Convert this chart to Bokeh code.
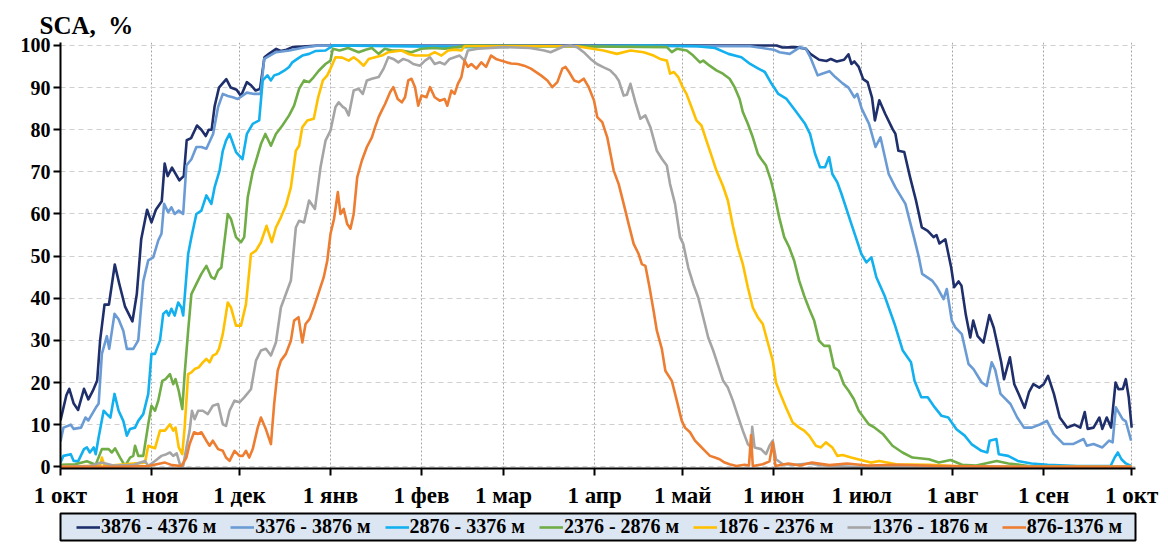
from bokeh.plotting import figure
from bokeh.models import Range1d, FixedTicker, Legend, LegendItem
from bokeh.layouts import column
from bokeh.embed import file_html
from bokeh.resources import INLINE

# ---------------- data ----------------
month_ticks = [0, 31, 61, 92, 123, 151, 182, 212, 243, 273, 304, 335, 365]
month_labels = ["1 окт", "1 ноя", "1 дек", "1 янв", "1 фев", "1 мар", "1 апр",
                "1 май", "1 июн", "1 июл", "1 авг", "1 сен", "1 окт"]
y_ticks = [0, 10, 20, 30, 40, 50, 60, 70, 80, 90, 100]

names = ["3876 - 4376 м", "3376 - 3876 м", "2876 - 3376 м", "2376 - 2876 м",
         "1876 - 2376 м", "1376 - 1876 м", "876-1376 м"]
colors = ["#1f2f6b", "#6a9bd4", "#12b0ee", "#70ad47", "#ffc000", "#a5a5a5", "#ed7d31"]

# days since 1 Oct
s1_days = [0, 2, 3, 4.5, 6, 8, 9.5, 11, 12.5, 13.5,
           15, 16.5, 18.5, 20, 22, 24.5, 26, 27.5, 29.5, 31,
           32.5, 34.5, 35.5, 36.5, 38, 40.5, 42, 43, 44.5, 46.5,
           48, 49.5, 50.5, 51.5, 52.5, 54, 56.5, 58, 60, 61.5,
           63.5, 65, 66.5, 68, 69.5, 71, 73.5, 75, 77, 79,
           84, 88,
           244, 246, 250.5, 254, 255.5, 258.5, 261, 262.5, 264.5, 267,
           268.5, 269.5, 270.5, 272, 273.5, 275, 276.5, 277.5, 279, 281,
           283.5, 284.5, 285.5, 287.5, 289.5, 291.5, 293.5, 295.5, 297.5, 298.5,
           299.5, 301.5, 303.5, 304.5, 306, 307, 308.5, 310, 311, 312.5,
           314.5, 316.5, 318, 320.5, 321.5, 323.5, 325, 326.5, 328.5, 330,
           331.5, 333.5, 335, 336.5, 338.5, 340.5, 343, 345.5, 347.5, 349,
           350, 352, 354, 355, 356.5, 358, 359.5, 360.5, 362, 363,
           364, 365]
s1_vals = [11, 17, 18.5, 15, 13.5, 18.5, 16, 18, 20.5, 30,
           38.5, 38.5, 48, 43.5, 38, 34.5, 41, 54, 61, 58,
           61, 63, 72, 69, 71, 68, 69, 77.5, 78, 81,
           80, 78.5, 80, 80, 85.5, 90, 92, 90, 89.5, 88,
           91.3, 90.5, 89.3, 89.7, 97.2, 98, 99.2, 98.7, 99, 99.6,
           99.8, 100,
           100, 99.5, 99.6, 99.2, 98, 96.6, 96.3, 96.8, 96.2, 96.6,
           97.9, 95.6, 96.2, 94.9, 92, 91.3, 87.7, 82.2, 87, 83.8,
           80.2, 79, 75, 74.7, 68.7, 63.2, 56.8, 56, 54.5, 55,
           53, 54, 47.3, 42.6, 44, 43, 36, 30.7, 34.7, 31,
           29.5, 36, 33, 25, 20.8, 26, 19.6, 17.3, 14, 17.7,
           19.6, 18.8, 19.6, 21.6, 17.3, 11.7, 9.3, 10, 9.3, 13,
           9, 9.3, 11.7, 9, 11.7, 9.3, 20, 18.4, 18.5, 20.8,
           16.5, 9.3]

s2_days = [0, 1, 3.5, 4.5, 7, 8.5, 9.5, 12, 13, 14.1,
           15.8, 16.6, 18.4, 19.8, 21.4, 22.6, 24.8, 26.5, 28.2, 29.9,
           31.6, 33.3, 34.4, 35.3, 36.7, 37.8, 38.9, 40.3, 41.8, 42.9,
           44.6, 46.3, 48, 49.7, 52, 53.7, 55.3, 57, 58.7, 60.4,
           63.5, 66, 68.2, 69.4, 73.4, 78, 83, 88,
           235, 243, 245, 248.5, 252, 254, 255.5, 258, 259.5, 262,
           264, 266.5, 268.5, 270.5, 271.5, 273, 275.5, 277.7, 279.4, 282.2,
           284.5, 287.9, 290.8, 292.5, 293.6, 297, 298.7, 300.9, 302, 303.7,
           304.9, 307.1, 309.4, 311.1, 313.9, 315.6, 317.3, 318.5, 320.3, 323.7,
           326, 328.3, 331, 333.9, 336.1, 338.4, 341.8, 345, 348.6, 349.7,
           352, 355, 357.3, 358.5, 359.6, 361.9, 363, 364.8]
s2_vals = [6, 9.3, 10, 9, 9.3, 11.7, 11, 14, 15, 26.8,
           31, 28, 36.3, 35, 32.3, 28, 28, 30, 44, 49,
           49.7, 53.7, 55.3, 62.4, 60.4, 61.6, 60, 60.8, 60, 71.5,
           73, 75.9, 75.9, 75.5, 79, 85.4, 88.5, 88, 87.7, 87.3,
           88.8, 88.5, 88.5, 96.8, 98.4, 98.8, 99.5, 100,
           99.8, 99, 98.4, 98, 99.6, 99.2, 97.2, 92.9, 93.3, 93.9,
           92.5, 91, 90, 87.7, 88.5, 85, 81.4, 75.9, 78.2, 69.5,
           66.3, 62.4, 54.5, 49.7, 45.8, 44.2, 42.6, 39.8, 42.2, 34.7,
           33.1, 31.5, 24.4, 23.2, 20, 19.2, 24.8, 23, 17.3, 14.9,
           11.7, 9.3, 9.3, 10.1, 10.9, 7.8, 5.4, 5.4, 6.6, 5,
           5.4, 4.6, 6.2, 5.8, 14.1, 11.3, 10.8, 6.2]

s3_days = [0, 1, 3.5, 4.5, 6, 8, 9, 10, 11.3, 12,
           13, 14.7, 15.8, 17, 18.4, 19.8, 21.4, 22.6, 23.7, 25.4,
           26.5, 28.2, 29.9, 31, 32.2, 33.9, 35, 36.1, 36.9, 37.8,
           38.9, 40.1, 41.2, 41.8, 43.5, 44.6, 46.3, 48, 49.7, 51.4,
           52.5, 54.2, 55.3, 56.4, 57.6, 59.8, 62, 63.5, 65.5, 67.7,
           68.9, 70.5, 71.7, 72.8, 74.5, 76.2, 77.9, 79, 80.7, 82.4,
           84.7, 87, 90.3, 93, 140, 200,
           216.7, 223, 227.6, 232, 235, 237.8, 240, 242.3, 244.6, 247.4,
           250.3, 252, 253.7, 255.4, 257.1, 258.8, 260.5, 261.9, 263, 264.7,
           266.1, 269.5, 272.9, 274.6, 276.3, 278, 280.8, 284.2, 287, 289.8,
           291, 293.3, 295.5, 297.9, 300.2, 302.5, 305.3, 308.1, 310.4, 313.8,
           315.8, 316.6, 318.9, 319.7, 322.9, 326.2, 330.8, 336.4, 346.6, 357.8,
           359.2, 360.3, 361.5, 363, 364.8]
s3_vals = [1, 2.6, 3, 1.4, 1.3, 4.2, 4.6, 3.4, 4.6, 3,
           7, 13.3, 12.5, 11.7, 17.3, 13.3, 10.9, 7.4, 9, 9.3,
           10.9, 12.5, 17.3, 26.8, 26.8, 30, 36.3, 37, 35.9, 37.5,
           35.9, 39, 37.8, 35.9, 50.5, 54.5, 60, 60.8, 64.4, 62.4,
           66.3, 70.3, 75, 77.4, 79, 74.7, 73, 79, 81.4, 82.2,
           91.7, 92.9, 91.7, 92.9, 93.3, 94, 94.9, 96, 96.8, 97.6,
           98, 98.7, 98.8, 100, 99.6, 100,
           99.8, 99.4, 98, 97.2, 95.6, 94.5, 93.7, 90.9, 88.5, 87.3,
           84.6, 83, 81.4, 79, 74.3, 71.1, 71.1, 73.5, 69.5, 67.5,
           64.8, 57.6, 50.5, 48.5, 49.7, 45, 40.6, 33.9, 27.6, 24.8,
           20.4, 16.5, 16.5, 14.1, 12.1, 11.7, 8.9, 7.4, 5.4, 3.8,
           3.4, 6.2, 6.6, 3, 2.6, 1.4, 0.8, 0.5, 0.2, 0.2,
           2.2, 3.4, 1.8, 0.8, 0.2]

s4_days = [0, 5, 9, 12, 14.1, 16.4, 17.5, 18.6, 20.3, 22,
           23.7, 24.8, 25.4, 26.5, 28.2, 29.9, 31, 32.2, 33.3, 34.7,
           35.8, 37.3, 38.4, 39.2, 40.3, 41.5, 42.3, 43.5, 44.6, 46.3,
           48, 49.7, 51.4, 52.5, 53.7, 54.8, 55.9, 57, 58.1, 59.8,
           61.5, 62.6, 63.8, 65.5, 68.3, 69.8, 71.7, 73.4, 75.6, 77.9,
           79.6, 81.3, 83, 84.7, 86.3, 88, 90.3, 92, 92.8, 95.1,
           98, 101.6, 104, 106.1, 108.4, 110.5, 112.9, 116, 119.6, 123,
           127, 130.9, 135.4, 138,
           206.6, 208.3, 210, 213.4, 215.6, 217.9, 219, 221.2, 223.5, 225.7,
           228, 229.7, 231.4, 232.5, 234.2, 235.9, 237.6, 238.7, 240.4, 242.1,
           243.2, 244.9, 246.6, 248.3, 250, 251.7, 253.4, 255.1, 256.8, 258.5,
           260.2, 262, 263.6, 265.2, 266.9, 268.6, 270.3, 272, 273.7, 275.4,
           277, 280.2, 283.5, 286.9, 290.3, 295.9, 299.3, 303.3, 307.2, 312,
           319, 323, 329.8, 365]
s4_vals = [0.5, 0.6, 1.3, 0.5, 4.2, 4.2, 3.4, 4.4, 2.2, 0.2,
           2.2, 2.6, 5, 2.6, 2.6, 10.1, 14.5, 13.3, 15.7, 20.4,
           20.8, 22, 19.6, 20.8, 18, 13.7, 22, 32.3, 41, 43.4,
           45.8, 47.7, 45, 44.6, 46.6, 47.3, 53.7, 60, 58.8, 54.5,
           53.3, 54.5, 64, 70, 76.6, 79, 76.2, 79, 81, 83.4,
           85.7, 89.7, 91.7, 91.3, 92.5, 94, 95.6, 96.4, 99.2, 98.8,
           99.4, 98.4, 99, 99.4, 98, 99.2, 98.8, 98.8, 98.4, 99.2,
           99.4, 99.2, 99.6, 100,
           99.6, 98.4, 99.2, 98.8, 97.6, 96, 96.4, 95.2, 94.1, 93.3,
           92.1, 90.1, 87.3, 84.2, 81.4, 78.2, 74.3, 73.1, 71.5, 67.9,
           64.8, 59.2, 54.5, 52.1, 48.9, 44.2, 40.6, 37.5, 34.7, 29.9,
           28.7, 28.7, 23.6, 22.8, 19.6, 18, 16.1, 13.3, 11.7, 10.1,
           9.5, 7.8, 5, 3.4, 2.2, 1.8, 1, 1.6, 0.5, 0.3,
           1.4, 0.8, 0.2, 0]

s5_days = [0, 13.5, 14.1, 15, 28.8, 29.9, 32.2, 33.9, 35.6, 37.3,
           38.4, 39.2, 40.3, 41.5, 42.3, 43.5, 44.6, 45.7, 47.1, 48.5,
           49.7, 50.8, 51.9, 53.1, 54, 55.3, 57, 58.1, 59.8, 61.5,
           63.2, 64.9, 66.6, 68.3, 70.2, 72, 73.4, 75.1, 76.8, 78.5,
           80.2, 81.3, 82.4, 84.1, 86.3, 87.8, 89.4, 90.9, 92, 93.7,
           96, 98.2, 99.9, 101.6, 103.3, 105, 107.2, 109.5, 111.7, 116.3,
           118.5, 120.8, 125.3, 127.5, 129.8, 132.1, 134.3, 136.6, 137.7,
           176, 185, 189.6, 194.2, 198.7, 202.1, 204.3, 206.6, 207.7, 209,
           210.5, 212, 213.3, 215, 216.7, 218.4, 220.1, 221.8, 223.5, 225.7,
           227.4, 229.1, 230.8, 232.5, 234.2, 235.9, 237.6, 239.3, 241, 242.7,
           243.8, 245.5, 247.2, 249.5, 251.7, 253.4, 255.1, 257.4, 259.1, 260.8,
           263, 264.7, 266.5, 269.4, 272.7, 276.1, 279, 284.7, 295.9, 310,
           365]
s5_vals = [0, 0.3, 2.2, 0.2, 1, 5, 4.4, 8.6, 8.6, 10.1,
           8.6, 9.3, 4.6, 3, 9.3, 22, 22.4, 23.2, 23.6, 24.8,
           25.6, 24.8, 26.4, 26.8, 28, 31.5, 39, 37.8, 33.5, 33.5,
           38.6, 50.5, 51.3, 53.3, 57.2, 53.3, 56.8, 59.2, 62, 66.3,
           75, 76.2, 80.6, 82.2, 82.6, 87.7, 91.7, 92.9, 94.5, 97.2,
           97.1, 96.4, 97.2, 96.3, 95.2, 96.8, 97.2, 97.6, 98.4, 98.8,
           98, 97.6, 97.6, 98.4, 97.6, 98.8, 99, 98.8, 99.8,
           99.8, 98.8, 98, 98.8, 98.4, 97.6, 96.8, 96.4, 93.3, 93.7,
           92.5, 90.1, 88.5, 85.4, 82.2, 81, 77.4, 73.9, 70.3, 66.7,
           63.2, 57.2, 52.1, 48.1, 42.6, 37.8, 35.5, 33.9, 29.5, 25.2,
           20, 16.9, 14.1, 10.5, 9.3, 8.6, 7.4, 5, 4.6, 5.8,
           4.6, 2.6, 2.8, 2.2, 1.6, 1, 1.4, 0.6, 0.5, 0,
           0]

s6_days = [0, 10, 14, 18, 25, 28.8, 29.9, 32.2, 34.4, 36.1,
           37.3, 38.4, 39.6, 40.7, 41.8, 42.9, 44, 44.8, 45.7, 46.9,
           48.5, 50.2, 51.9, 53.7, 55.3, 56.4, 57.6, 59.3, 61, 62.6,
           64.9, 66.6, 68.3, 70, 71.7, 73.4, 75.1, 76.8, 78.5, 80.2,
           81.3, 83, 84.7, 86.7, 88.6, 90.3, 92, 93.7, 94.8, 96.2,
           97.1, 98.2, 99.9, 101.6, 103, 104.4, 106.1, 108.4, 110.1, 111.7,
           113.4, 115.1, 116.8, 118.5, 120.2, 122.5, 124.2, 125.9, 127.5, 129.2,
           130.9, 132.6, 134.3, 136, 137.7, 138.8, 142.2, 151, 160, 164.8,
           167, 171.6, 173.8,
           176, 178.3, 180.6, 182.8, 185.1, 187.3, 189, 190.2, 191.9, 193,
           194.2, 195.9, 197.6, 199.3, 201, 203.2, 204.9, 206.6, 207.7, 209.4,
           211.1, 212.2, 213.9, 215.6, 217.3, 219, 220.7, 222.4, 224.1, 225.8,
           227.4, 229.1, 230.8, 232.5, 234.2, 235.3, 235.7, 236.5, 238.7, 240.4,
           241.6, 242.7, 243.8, 246.1, 250, 255, 260, 270, 365]
s6_vals = [0, 0.2, 1, 0.3, 0.5, 1.4, 0.2, 1.4, 2.6, 3,
           3.4, 2.6, 3.2, 0.6, 0.2, 4.6, 8.6, 13.3, 11.3, 13.3,
           13.3, 12.5, 14.5, 14.9, 10.1, 9.7, 13.3, 15.7, 15.3, 16.5,
           18.4, 25.2, 27.6, 28, 26.4, 29.5, 37.8, 41, 44.2, 56.8,
           58.4, 58, 63.2, 61.2, 71.1, 77.4, 79.8, 85.4, 86.5, 85.4,
           85, 83.4, 89.3, 89.7, 88.5, 91.7, 92.1, 92.5, 94.5, 97.2,
           96.8, 96, 96.8, 96.4, 95.6, 95.2, 96.4, 97.2, 95.6, 96,
           95.5, 96.8, 97.2, 97.6, 96.4, 98.8, 99.2, 99.6, 99.4, 98.8,
           98.4, 99.8, 100,
           99.6, 98.4, 96.8, 95.6, 94.8, 94.1, 92.9, 91.7, 88.1, 88.3,
           90.9, 86.5, 82.6, 83.4, 80.6, 75, 73.1, 71.5, 67.1, 62.4,
           54.5, 52.9, 47.3, 43.4, 40.2, 35.5, 30.7, 27.6, 24, 20.4,
           18.8, 15.7, 12.1, 8.6, 5.4, 4.6, 9.5, 4.6, 4.2, 3,
           5, 6.2, 1.8, 0.6, 0.5, 0.8, 0.3, 0, 0]

s7_days = [0, 20, 30, 35.6, 38, 41.2, 42.9, 44, 45.5, 46.9,
           48, 49.7, 50.8, 51.9, 53.7, 55.3, 56.4, 57.6, 59.3, 61,
           62.1, 63.2, 64.3, 65.5, 67.2, 68.3, 70, 71.7, 72.8, 74,
           75.1, 76.8, 78.5, 79.6, 81.1, 82.4, 83.5, 84.9, 86.3, 88,
           89.7, 90.9, 92, 93.2, 94.5, 95.4, 96.5, 97.7, 98.8, 99.9,
           101.1, 102.7, 104.4, 106.1, 107.2, 108.4, 109.5, 110.6, 112.3, 113.4,
           114.9, 116.3, 117.4, 118.5, 119.6, 120.8, 121.9, 123, 124.7, 125.9,
           127.5, 129.2, 130.9, 131.8, 133.2, 134.3, 135.4, 136.6, 137.7, 138.8,
           140, 141.7, 143.4, 145, 146.7, 148.4, 150.1, 153.5, 155.8, 158,
           160.3, 163.7, 165.9, 167.6, 169.3, 171, 172.1, 173.3, 175, 176.6,
           178.3, 180, 181.8, 182.9, 184.6, 186.3, 187.4, 188.5, 190.2, 191.9,
           193.6, 195.3, 197, 198.1, 199.3, 200.7, 202.1, 203.2, 204.9, 206.1,
           208.3, 210, 211.7, 212.8, 214.5, 216.2, 217.9, 219.6, 221.3, 223,
           224.6, 226.3, 228, 230.3, 233.1, 234.6, 235.3, 235.9, 239.3, 241.6,
           242.7, 243.6, 248, 252, 256, 262, 268, 275, 285, 300,
           330, 365]
s7_vals = [0, 0, 0.2, 1, 0.4, 0.2, 2.2, 5.4, 8.2, 7.8,
           8.2, 6.2, 5, 6.2, 4.2, 3.8, 2.2, 1.4, 3.8, 2.6,
           2.6, 3.8, 2.2, 4.2, 9.3, 11.7, 8.9, 5.4, 14.9, 22.8,
           25.2, 26.8, 29.9, 34.7, 35.5, 29.5, 33.9, 35.1, 37.8, 41.4,
           45, 48.9, 55.3, 58.8, 65.2, 60, 61.2, 57.6, 56.5, 60,
           68.7, 72.7, 75.9, 78.2, 80.6, 83, 84.6, 86.1, 88.9, 90.1,
           87.3, 86.5, 87.7, 91.7, 92.1, 90.1, 85.7, 88.1, 87.7, 90.1,
           87.7, 86.9, 87.3, 85.7, 89.3, 88.5, 90.9, 92.5, 96.4, 94.9,
           95.6, 94.5, 96, 94.9, 97.6, 96.8, 96.4, 95.7, 95.6, 95.2,
           94.5, 92.9, 91.7, 90.1, 91.3, 94.5, 94.9, 93.7, 91.7, 91.3,
           92.1, 90.1, 86.9, 83, 81.8, 78.2, 74.3, 70.3, 67.1, 62.4,
           57.6, 52.9, 50.5, 48.1, 47.7, 42.6, 37, 32.3, 28, 22.8,
           20.4, 15.7, 10.9, 9.3, 8.2, 6.2, 5, 3.8, 2.6, 2.2,
           1.8, 1, 0.6, 0.2, 0.5, 0.3, 7.5, 0.2, 0.6, 1.3,
           5.8, 0.2, 0.8, 0.3, 1, 0.4, 0.8, 0.3, 0.5, 0.2,
           0, 0]

series_days = [s1_days, s2_days, s3_days, s4_days, s5_days, s6_days, s7_days]
series_vals = [s1_vals, s2_vals, s3_vals, s4_vals, s5_vals, s6_vals, s7_vals]

# ---------------- main figure ----------------
FONT = "Liberation Serif"

p = figure(width=1168, height=512,
           x_range=Range1d(0, 366.3), y_range=Range1d(-0.4, 100.7),
           output_backend="svg", toolbar_location=None,
           min_border_left=60, min_border_right=26,
           min_border_top=42, min_border_bottom=44,
           title="SCA,\u00a0 %")
p.outline_line_color = None
p.background_fill_color = "white"
p.border_fill_color = "white"

p.title.text_font = FONT
p.title.text_font_style = "bold"
p.title.text_font_size = "25px"
p.title.text_color = "black"
p.title.align = "left"
p.title.offset = -21
p.title.standoff = 7

p.xaxis.ticker = FixedTicker(ticks=month_ticks)
p.xaxis.major_label_overrides = {t: l for t, l in zip(month_ticks, month_labels)}
p.yaxis.ticker = FixedTicker(ticks=y_ticks)
for ax in (p.xaxis[0], p.yaxis[0]):
    ax.axis_line_color = "black"
    ax.axis_line_width = 2
    ax.major_tick_line_color = "black"
    ax.major_tick_line_width = 2
    ax.major_tick_in = 0
    ax.major_tick_out = 7
    ax.minor_tick_line_color = None
    ax.major_label_text_font = FONT
    ax.major_label_text_font_style = "bold"
    ax.major_label_text_color = "black"
p.xaxis.major_label_text_font_size = "23px"
p.xaxis.major_label_standoff = 7
p.yaxis.major_label_text_font_size = "20px"
p.yaxis.major_label_standoff = 3

p.xgrid.ticker = FixedTicker(ticks=month_ticks)
p.xgrid.grid_line_color = "#a6a6a6"
p.xgrid.grid_line_dash = "2 2"
p.xgrid.grid_line_width = 1
p.ygrid.ticker = FixedTicker(ticks=y_ticks)
p.ygrid.grid_line_color = "#cfcfcf"
p.ygrid.grid_line_dash = "5 4"
p.ygrid.grid_line_width = 1

for col, xs, ys in zip(colors, series_days, series_vals):
    p.line(xs, ys, line_color=col, line_width=2.6, line_join="round")

# ---------------- legend strip (the frame is the legend box) ----------------
# the same series are attached here only to give the legend its line swatches;
# the ranges keep them out of view
lg = figure(width=1168, height=32, x_range=Range1d(0, 1), y_range=Range1d(500, 501),
            output_backend="svg", toolbar_location=None,
            x_axis_type=None, y_axis_type=None,
            min_border_left=57, min_border_right=33,
            min_border_top=1, min_border_bottom=4)
lg.xgrid.visible = False
lg.ygrid.visible = False
lg.background_fill_color = "#dce6f2"
lg.border_fill_color = "white"
lg.outline_line_color = "black"
lg.outline_line_width = 2

items = []
for name, col, xs, ys in zip(names, colors, series_days, series_vals):
    r = lg.line(xs, ys, line_color=col, line_width=2.6)
    items.append(LegendItem(label=name, renderers=[r]))

legend = Legend(items=items, orientation="horizontal", location=(16, 2))
legend.label_text_font = FONT
legend.label_text_font_style = "bold"
legend.label_text_font_size = "20px"
legend.label_text_color = "black"
legend.glyph_width = 24
legend.glyph_height = 20
legend.label_standoff = 1
legend.spacing = 14
legend.padding = 0
legend.margin = 0
legend.label_height = 20
legend.border_line_color = None
legend.background_fill_alpha = 0
lg.add_layout(legend, "center")

layout = column(p, lg, spacing=0)
open("out.html", "w").write(file_html(layout, INLINE))
